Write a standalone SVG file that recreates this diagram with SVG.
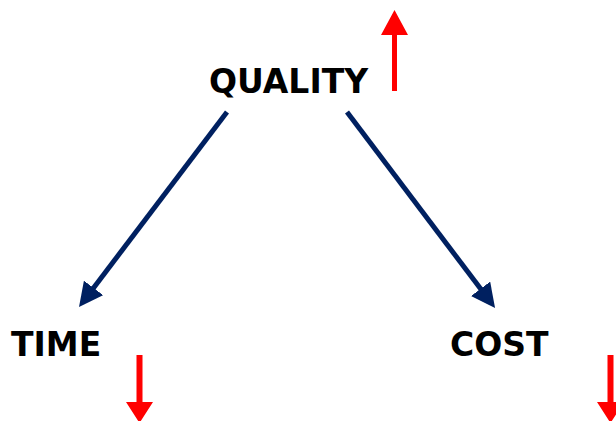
<svg xmlns="http://www.w3.org/2000/svg" width="616" height="421" viewBox="0 0 616 421">
<style>
.lbl{font-family:"DejaVu Sans","Verdana",sans-serif;font-weight:bold;font-size:33px;fill:#000}
.conn{stroke:#002060;stroke-width:5;fill:none}
.ind{fill:#ff0000}
</style>
<defs>
<marker id="ah" viewBox="0 0 24 24" refX="6" refY="12" markerWidth="24" markerHeight="24" markerUnits="userSpaceOnUse" orient="auto">
<path d="M0,0 L24,12 L0,24 z" fill="#002060"/>
</marker>
</defs>
<rect width="616" height="421" fill="#fff"/>
<g id="quality"><text class="lbl" x="209" y="93">QUALITY</text></g>
<g id="time"><text class="lbl" x="11" y="356">TIME</text></g>
<g id="cost"><text class="lbl" x="450" y="356">COST</text></g>
<g id="connectors">
<line class="conn" x1="227" y1="112" x2="89.9" y2="292.7" marker-end="url(#ah)"/>
<line class="conn" x1="347" y1="112" x2="484.2" y2="293.6" marker-end="url(#ah)"/>
</g>
<g id="indicators">
<path class="ind" d="M392,91 L392,35 L381,35 L394.5,10 L408,35 L397,35 L397,91 z"/>
<path class="ind" d="M136.5,355 L136.5,402 L126,402 L139.5,423 L153,402 L142.5,402 L142.5,355 z"/>
<path class="ind" d="M607.5,355 L607.5,402 L597,402 L610.5,423 L624,402 L613.5,402 L613.5,355 z"/>
</g>
</svg>
